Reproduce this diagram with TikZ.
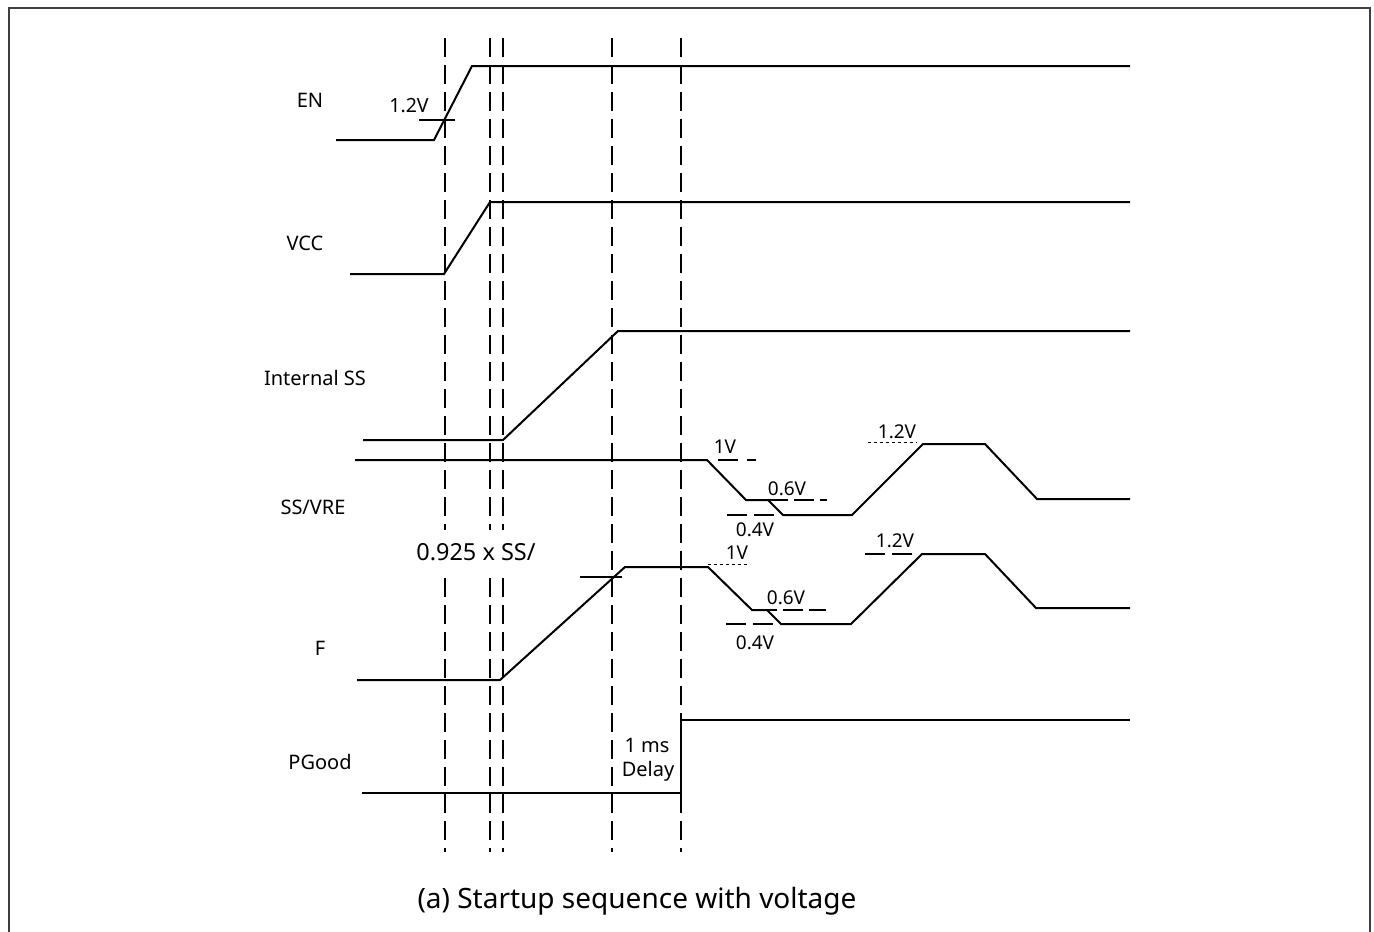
\documentclass[tikz,border=0pt]{standalone}
\usepackage{fontspec}
\setmainfont{Noto Sans}
\begin{document}
\begin{tikzpicture}[x=1pt,y=-1pt,
  sig/.style={line width=2pt, line join=miter},
  guide/.style={line width=2pt, dash pattern=on 19pt off 8pt},
  tick/.style={line width=1.6pt, dash pattern=on 20pt off 9pt},
  fine/.style={line width=1pt, dash pattern=on 3pt off 3pt},
  lbl/.style={font=\fontsize{20}{24}\selectfont, inner sep=0pt},
  small/.style={font=\fontsize{19}{22}\selectfont, inner sep=0pt},
  mid/.style={font=\fontsize{20}{26}\selectfont, inner sep=0pt},
  captext/.style={font=\fontsize{28}{32}\selectfont, inner sep=0pt}]
\useasboundingbox (0,0) rectangle (1374,932);
\fill[white] (0,0) rectangle (1374,932);
% frame
\draw[line width=2pt, black!75] (9,945) -- (9,8) -- (1370,8) -- (1370,945);
% vertical guides
\foreach \x in {445,490,503,612,681}
  \draw[guide] (\x,38) -- (\x,852);
% EN
\draw[sig] (336,140) -- (434,140) -- (472,66) -- (1130,66);
\draw[line width=1.6pt] (419,120) -- (455,120);
% VCC
\draw[sig] (350,274) -- (444,274) -- (490,202) -- (1130,202);
% Internal SS
\draw[sig] (363,440) -- (503,440) -- (618,331) -- (1130,331);
% SS/VRE
\draw[sig] (355,460) -- (707,460) -- (746,500) -- (768,500) -- (783,515) -- (852,515) -- (923,444) -- (985,444) -- (1037,499) -- (1130,499);
\draw[tick, dash pattern=on 20pt off 9pt] (718,460) -- (756,460);
\draw[tick, dash pattern=on 20pt off 6pt] (768,500) -- (827,500);
\draw[tick, dash pattern=on 20pt off 7pt] (727,515) -- (775,515);
\draw[fine] (868,442) -- (917,442);
% F
\draw[sig] (357,680) -- (500,680) -- (625,567) -- (708,567) -- (752,610) -- (767,610) -- (781,624) -- (851,624) -- (922,554) -- (985,554) -- (1036,608) -- (1130,608);
\draw[fine] (708,564) -- (748,564);
\draw[tick, dash pattern=on 20pt off 6pt] (757,610) -- (826,610);
\draw[tick, dash pattern=on 20pt off 7pt] (726,624) -- (773,624);
\draw[tick, dash pattern=on 20pt off 7pt] (865,554) -- (912,554);
\draw[line width=1.6pt] (580,577) -- (622,577);
% PGood
\draw[sig] (362,793) -- (681,793) -- (681,720) -- (1130,720);
% labels
\node[lbl] (en) at (310,100) {EN};
\node[lbl] (vcc) at (305,243) {VCC};
\node[lbl] (iss) at (315,378) {Internal SS};
\node[lbl] (ssv) at (313,507) {SS/VRE};
\node[lbl] (f) at (320,648) {F};
\node[lbl] (pg) at (320,762) {PGood};
\node[small, font=\fontsize{19.5}{22}\selectfont] (en12) at (409,106) {1.2V};
\node[fill=white, font=\fontsize{23.5}{26}\selectfont, inner xsep=2pt, minimum height=44pt] (ratio) at (476,552) {0.925 x SS/};
\node[mid] (d1) at (647,745) {1 ms};
\node[mid] (d2) at (648,771) {Delay};
\node[small] (s1) at (725,447) {1V};
\node[small] (s06) at (787,489) {0.6V};
\node[small] (s04) at (755,530) {0.4V};
\node[small] (s12) at (897,432) {1.2V};
\node[small] (f1) at (737,553) {1V};
\node[small] (f06) at (786,598) {0.6V};
\node[small] (f04) at (755,643) {0.4V};
\node[small] (f12) at (895,541) {1.2V};
\node[captext] (caption) at (637,901) {(a) Startup sequence with voltage};
\end{tikzpicture}
\end{document}
